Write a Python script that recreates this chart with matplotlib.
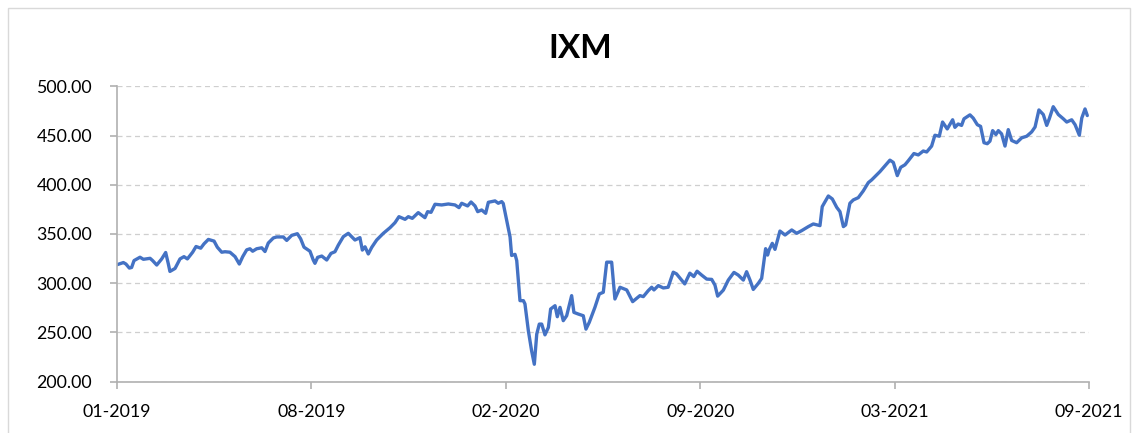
import matplotlib
matplotlib.use("Agg")
import matplotlib.pyplot as plt
from matplotlib.patches import Rectangle

plt.rcParams['font.family'] = ['Lato', 'DejaVu Sans']

title = "IXM"
tick_positions = [0, 137, 274, 411, 548, 685]
tick_labels = ["01-2019", "08-2019", "02-2020", "09-2020", "03-2021", "09-2021"]
y_ticks = [200, 250, 300, 350, 400, 450, 500]

# trading-day index of each observation
day_index = [
    0, 4.5, 6.3, 8.7, 10.3, 12, 16.2, 18.6, 23.3, 25.1, 28, 31.5, 34.3, 36.2, 37.3, 40.9,
    44.4, 47.2, 49.6, 53.3, 55.7, 59, 61.3, 64.4, 68.4, 70.7, 73.8, 76.1, 79.6, 83.2, 86.2,
    88.6, 91.4, 93.7, 95.6, 98.4, 102, 104.3, 106.6, 110.2, 112.5, 117.2, 119.6, 123.1,
    127.1, 129.4, 131.8, 136,
    138.3, 139.5, 141.4, 144.3, 147.8, 150.8, 153.6, 156, 159.5, 163, 165.4, 167.7, 171.2,
    172.9, 174.8, 177.1, 179.5, 183, 187.7, 192.4, 195.9, 198.7, 203, 205.3, 208.1, 212.3,
    217, 218.9, 221.3, 224.1, 228.8, 233.5, 238.2, 241, 242.9, 247.1, 249.5, 252.3, 254.2,
    257, 259.8, 261.7, 266.4, 268.7, 271.1,
    272.2, 274.6, 277, 278.1, 280.5, 281.7, 284, 286.4, 287.5, 289.9, 292.2, 294.1, 295.8,
    297.6, 299.3, 301.6, 304, 305.6, 308.7, 310.3, 312.2, 314.5, 316.9, 320.4, 322, 325.1,
    328.6, 330.5, 332.8, 336.8, 339.9, 342.7, 345.1, 348.6, 350.9, 354.5, 359.2, 363.4,
    368.5, 370.9, 374.4, 376.8, 378.4, 381.5, 385, 388.4, 392, 394.3, 400.1, 403.7, 406.5,
    408.8,
    412, 415.6, 419.1, 421.4, 423.3, 427.3, 430.8, 434.8, 437.8, 441.4, 443.7, 446.1, 448.4,
    451.9, 454.3, 457.1, 458.5, 459.5, 461.8, 463.7, 467.2, 470.8, 475.5, 479, 482.5, 487.2,
    490.7, 495.4, 497, 501.3, 504.1, 507.2, 509.5, 511.9, 513.5, 516.5, 518.9, 522.4, 525.9,
    529.5, 531.8, 537.7,
    544.7, 547.1, 549.9, 552.3, 555.3, 557.6, 561.6, 564.7, 568.2, 570.6, 574.1, 576.4,
    579.5, 581.8, 585.1, 588.9, 590.5, 592.8, 595.2, 596.9, 601.1, 603.4, 606.3, 608.6, 611,
    613.3, 615.2, 617.1, 619.4, 621.1, 623.4, 625.8, 628.1, 630.5, 634, 637.6, 641.1, 644.6,
    647, 649.7, 652.8, 655.2, 657, 659.8, 663.4, 666.9, 669.3, 672.8, 675.2, 678.2, 679.9,
    682.2, 683.8,
]

price = [
    318.8, 321, 319.5, 315.4, 316, 323, 326.4, 324.3, 325.3, 323, 318.5, 324.7, 331.2, 319.5,
    312, 315, 324.7, 327, 324.7, 331.5, 337.3, 335.6, 340, 344.5, 342.8, 336.6, 331.5, 332,
    331.5, 327, 319.5, 327, 333.9, 335, 332.5, 335, 336, 332.2, 340.8, 346, 347, 347, 343.5,
    348.6, 350.3, 345.2, 336.6, 332.5,
    323.6, 320.2, 326.3, 327.6, 323.6, 330.3, 332, 338.8, 347.3, 350.7, 347.3, 343.9, 346.3,
    333.7, 337, 329.7, 336.4, 343.9, 350.7, 356.4, 361.5, 367.6, 364.9, 367.6, 365.9, 371.7,
    366.6, 372.7, 372, 380.2, 379.5, 380.5, 379.5, 376.8, 381.2, 378.5, 382.5, 378.5, 372.7,
    374.4, 371, 382.2, 383.6, 381.2, 382.9,
    381, 364, 347, 328.2, 329.3, 323, 282.3, 282.3, 279, 251.7, 231.3, 217.7, 248.3, 258.5,
    258.5, 247.6, 255.1, 273.8, 277.2, 266, 275.5, 262, 267, 287.4, 270.4, 268.7, 267, 253.4,
    260.2, 275.5, 289.1, 290.8, 321.4, 321.4, 284, 295.9, 293.2, 281.3, 287.4, 286.4, 292.5,
    295.9, 293.2, 297.6, 295.2, 295.9, 311.2, 309.5, 299.3, 310.2, 306.8, 312.2,
    308.3, 304.2, 303.9, 298.1, 286.9, 293, 303.2, 311, 308.3, 303.2, 311.7, 303.2, 293.7,
    299.8, 304.9, 335.1, 328.6, 333.7, 340.5, 334.4, 353, 349, 354.1, 350.7, 353.4, 357.5,
    360.2, 358.5, 377.8, 388.6, 385.6, 377.1, 372.7, 357.5, 359.2, 381.2, 384.6, 386.9, 393.7,
    402.2, 404.9, 413.4,
    425, 422.7, 409.3, 417.7, 420.3, 424.3, 431.7, 430.3, 434.3, 433.3, 439.3, 450.3, 449.3,
    463.7, 456.7, 466, 458.3, 461.7, 460.3, 467, 471, 467.7, 461, 459.3, 442.7, 441.7, 444.3,
    455, 451, 455, 451.7, 439.3, 456, 445, 442.7, 447.7, 449.3, 453.7, 458.7, 476, 471.3,
    460.3, 467, 479.3, 471.3, 467, 463.7, 466, 461, 450.3, 467.7, 477, 470.3,
]

W, H = 1137, 433
fig = plt.figure(figsize=(W / 100, H / 100), dpi=100)
fig.patch.set_facecolor("white")

# chart area border
fig.add_artist(Rectangle((8 / W, -0.01), (1130 - 8) / W, 1 - 8 / H + 0.01,
                         transform=fig.transFigure, fill=False,
                         edgecolor="#D9D9D9", linewidth=1.0))

ax = fig.add_axes([117 / W, 1 - 381.7 / H, (1089 - 117) / W, (381.7 - 86.3) / H])
ax.plot(day_index, price, color="#4472C4", linewidth=2.4, solid_joinstyle="round",
        solid_capstyle="round")

ax.set_xlim(0, 685)
ax.set_ylim(200, 500)
ax.set_yticks(y_ticks)
ax.set_yticklabels([f"{v:.2f}" for v in y_ticks])
ax.set_xticks(tick_positions)
ax.set_xticklabels(tick_labels)

ax.grid(axis="y", color="#CFCFCF", linestyle=(0, (4, 3)), linewidth=0.9)
ax.set_axisbelow(True)
for s in ["top", "right"]:
    ax.spines[s].set_visible(False)
for s in ["left", "bottom"]:
    ax.spines[s].set_color("#B0B0B0")
    ax.spines[s].set_linewidth(1.2)

ax.tick_params(axis="both", colors="#B0B0B0", labelcolor="black", labelsize=12.8,
               length=5, width=1.2, direction="out")
ax.tick_params(axis="y", pad=13)
ax.tick_params(axis="x", pad=11)

fig.text(580 / W, 1 - 48 / H, title, ha="center", va="center",
         fontsize=24, fontweight="bold", color="black")

fig.savefig("out.png", dpi=100)
